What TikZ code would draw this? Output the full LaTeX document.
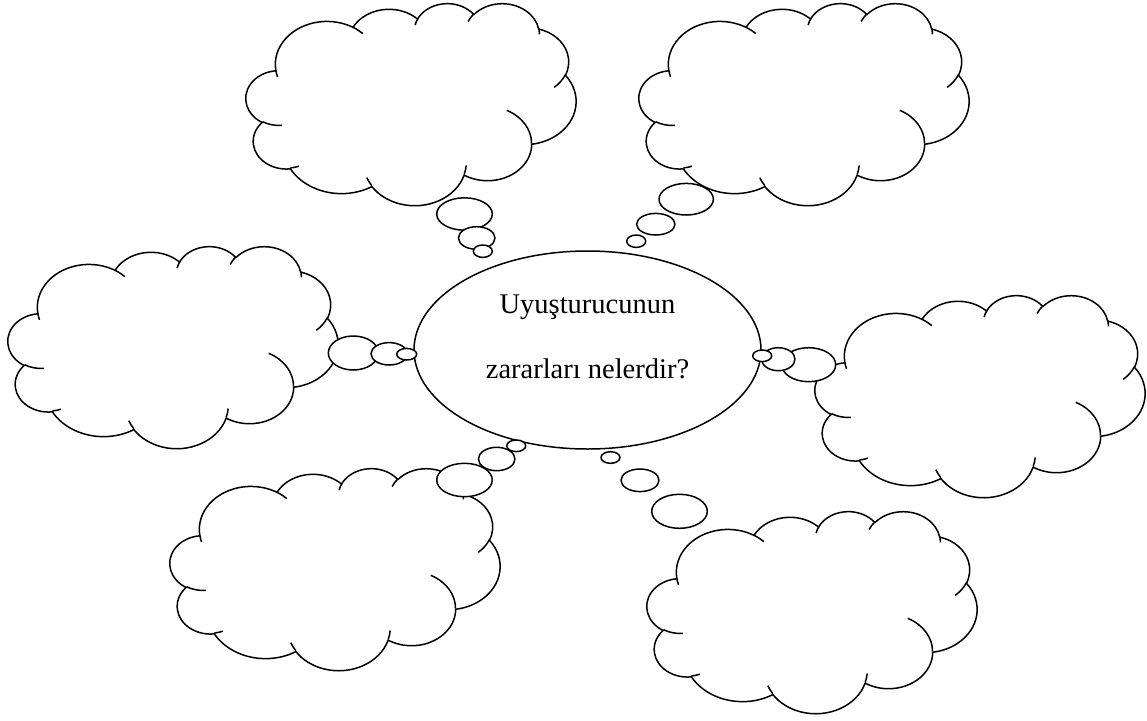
\documentclass[tikz,border=0pt]{standalone}
\usepackage{fontspec}
\setmainfont{Liberation Serif}
\usetikzlibrary{shapes.geometric}
\tikzset{
  carc/.style n args={4}{insert path={arc[x radius=#1, y radius=#2,
     start angle={atan2((#1)*sin(#3),(#2)*cos(#3))},
     delta angle={mod(atan2((#1)*sin((#3)+(#4)),(#2)*cos((#3)+(#4)))-atan2((#1)*sin(#3),(#2)*cos(#3))+720,360)}]}},
  ol/.style={line width=1.5pt, draw=black, line join=round},
  bubble/.style={ellipse, ol, fill=white, inner sep=0pt, outer sep=0pt},
  cloudframe/.style={x=7.6389pt, y=-4.6759pt},
  qtext/.style={anchor=base, inner sep=0pt, font=\fontsize{28.5}{34}\selectfont},
}
\newcommand\mycloud[2]{%
  \begin{scope}[shift={(#1,#2)}, cloudframe]
    \path[ol, fill=white] (3.900,14.370)
      [carc={6.753}{9.190}{-190.4875}{123.7805}]
      [carc={5.333}{7.267}{-144.1024}{89.9452}]
      [carc={4.365}{5.945}{-145.8079}{99.7230}]
      [carc={4.857}{6.595}{-130.9861}{117.2417}]
      [carc={5.333}{7.273}{-78.7089}{109.0269}]
      [carc={6.775}{9.220}{-46.2673}{130.2690}]
      [carc={5.785}{7.867}{0.6250}{114.0333}]
      [carc={6.752}{9.215}{22.4516}{115.1726}]
      [carc={7.720}{10.543}{66.2426}{75.7110}]
      [carc={4.360}{5.918}{-274.9421}{146.7356}]
      [carc={4.345}{5.945}{-246.8285}{152.5189}]
      -- cycle;
    \path[ol]
      (4.693,26.177) [carc={4.345}{5.945}{86.7420}{26.4295}]
      (6.928,34.899) [carc={4.360}{5.918}{73.6105}{11.4475}]
      (16.478,39.090) [carc={6.752}{9.215}{137.6242}{14.0811}]
      (28.827,34.751) [carc={6.752}{9.215}{6.4533}{15.9984}]
      (34.129,22.954) [carc={5.785}{7.867}{-70.2924}{70.9174}]
      (41.798,15.354) [carc={5.333}{7.273}{30.3180}{27.7515}]
      (38.324,5.426) [carc={4.857}{6.595}{-13.7443}{14.8589}]
      (29.078,3.952) [carc={4.857}{6.595}{-149.1815}{18.1954}]
      (22.141,4.720) [carc={4.365}{5.945}{-163.4943}{17.6864}]
      (14.000,5.192) [carc={6.753}{9.190}{-66.7070}{12.3194}]
      (4.127,15.789) [carc={6.753}{9.190}{157.6544}{11.8582}];
  \end{scope}}
\begin{document}
\begin{tikzpicture}[x=1pt, y=-1pt]
  \useasboundingbox[fill=white] (0,0) rectangle (1147,720);
  % clouds
  \mycloud{246}{3}
  \mycloud{639}{3}
  \mycloud{8}{246}
  \mycloud{815}{295}
  \mycloud{170}{468}
  \mycloud{647}{511}
  % central ellipse
  \node[ellipse, ol, fill=white, minimum width=347pt, minimum height=198pt] (center) at (587.5,350) {};
  \node[qtext] (q1) at (587.5,313) {Uyuşturucunun};
  \node[qtext] (q2) at (587.5,378) {zararları nelerdir?};
  % bubbles: top-left
  \node[bubble, minimum width=55.6pt, minimum height=32.4pt] (tlA) at (464.5,214) {};
  \node[bubble, minimum width=36.6pt, minimum height=22.6pt] (tlB) at (476.7,238) {};
  \node[bubble, minimum width=19pt, minimum height=12.4pt] (tlC) at (482.8,251.2) {};
  % top-right
  \node[bubble, minimum width=54.4pt, minimum height=31.6pt] (trA) at (686.2,199.2) {};
  \node[bubble, minimum width=38.4pt, minimum height=21.6pt] (trB) at (655.8,224.2) {};
  \node[bubble, minimum width=19pt, minimum height=12.4pt] (trC) at (636.2,241.2) {};
  % left
  \node[bubble, minimum width=50pt, minimum height=34pt] (lA) at (353.3,353) {};
  \node[bubble, minimum width=36.4pt, minimum height=22.4pt] (lB) at (389.2,353.8) {};
  \node[bubble, minimum width=20pt, minimum height=11.6pt] (lC) at (406.7,354.2) {};
  % right
  \node[bubble, minimum width=54pt, minimum height=34pt] (rA) at (808.7,364.7) {};
  \node[bubble, minimum width=33.4pt, minimum height=23pt] (rB) at (778.3,359.2) {};
  \node[bubble, minimum width=19pt, minimum height=11.6pt] (rC) at (762.2,355.8) {};
  % bottom-left
  \node[bubble, minimum width=55.6pt, minimum height=33.4pt] (blA) at (464.5,480) {};
  \node[bubble, minimum width=36.6pt, minimum height=23.4pt] (blB) at (496.7,459) {};
  \node[bubble, minimum width=19pt, minimum height=11.6pt] (blC) at (516.2,445.8) {};
  % bottom-right
  \node[bubble, minimum width=55.6pt, minimum height=34pt] (brA) at (679.5,511.3) {};
  \node[bubble, minimum width=38pt, minimum height=22.6pt] (brB) at (640,480.3) {};
  \node[bubble, minimum width=19pt, minimum height=11.6pt] (brC) at (610.5,457.5) {};
\end{tikzpicture}
\end{document}
